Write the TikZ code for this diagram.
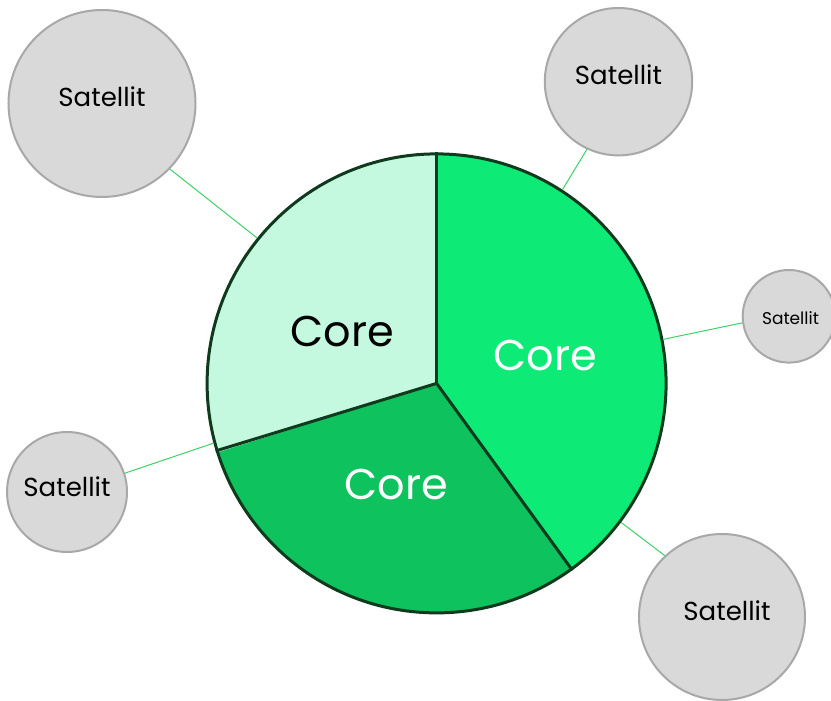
\documentclass[tikz,border=0pt]{standalone}
\usepackage{fontspec}
\setmainfont{Poppins}
\definecolor{coreLight}{HTML}{C5F9DF}
\definecolor{coreMid}{HTML}{0EC25E}
\definecolor{coreBright}{HTML}{0EEA76}
\definecolor{coreStroke}{HTML}{103A1E}
\definecolor{connGreen}{HTML}{3CD264}
\definecolor{satFill}{HTML}{D9D9D9}
\definecolor{satStroke}{HTML}{A8A8A8}
\tikzset{
  sat/.style={circle, draw=satStroke, fill=satFill, line width=2pt, inner sep=0pt},
  satlabel/.style={font=\fontsize{26}{30}\selectfont, text=black, inner sep=0pt},
  smalllabel/.style={font=\fontsize{17}{20}\selectfont, text=black, inner sep=0pt},
  conn/.style={draw=connGreen, line width=1pt},
  divider/.style={draw=coreStroke, line width=3pt},
  corering/.style={circle, draw=coreStroke, line width=3pt, inner sep=0pt, minimum size=459pt},
  coretext/.style={font=\fontsize{43}{50}\selectfont, inner sep=0pt}
}
\begin{document}
\begin{tikzpicture}[x=1pt,y=1pt]
\useasboundingbox (0,0) rectangle (831,701);
\coordinate (c) at (436.6,317.6);
\def\R{229.5}
% pie wedges
\fill[coreLight] (c) -- ++(90:\R) arc[start angle=90, end angle=197.5, radius=\R] -- cycle;
\fill[coreMid] (c) -- ++(197.5:\R) arc[start angle=197.5, end angle=306, radius=\R] -- cycle;
\fill[coreBright] (c) -- ++(306:\R) arc[start angle=306, end angle=450, radius=\R] -- cycle;
\node[corering] (core) at (c) {};
\draw[divider] (c) -- (core.90);
\draw[divider] (c) -- (core.197.5);
\draw[divider] (c) -- (core.306);
% core labels
\node[coretext, text=black] (t1) at (342.5,369.3) {Core};
\node[coretext, text=white] (t2) at (545.5,345) {Core};
\node[coretext, text=white] (t3) at (396,216) {Core};
% satellites
\node[sat, minimum size=187pt, label={[satlabel, yshift=7pt]center:Satellit}] (s1) at (102,597.5) {};
\node[sat, minimum size=147.4pt, label={[satlabel, yshift=6.5pt]center:Satellit}] (s2) at (618.5,619.3) {};
\node[sat, minimum size=92.6pt, label={[smalllabel, xshift=1.5pt, yshift=-2pt]center:Satellit}] (s3) at (789,384.7) {};
\node[sat, minimum size=120pt, label={[satlabel, yshift=5pt]center:Satellit}] (s4) at (67,209) {};
\node[sat, minimum size=166pt, label={[satlabel, xshift=5pt, yshift=6pt]center:Satellit}] (s5) at (722,84) {};
% connectors
\draw[conn] (s1.-44.8) -- (core.141.8);
\draw[conn] (s2.245.2) -- (core.57.8);
\draw[conn] (s3.188.6) -- (core.11.4);
\draw[conn] (s4.18.4) -- (core.195.7);
\draw[conn] (s5.133.6) -- (core.-37.5);
\end{tikzpicture}
\end{document}
